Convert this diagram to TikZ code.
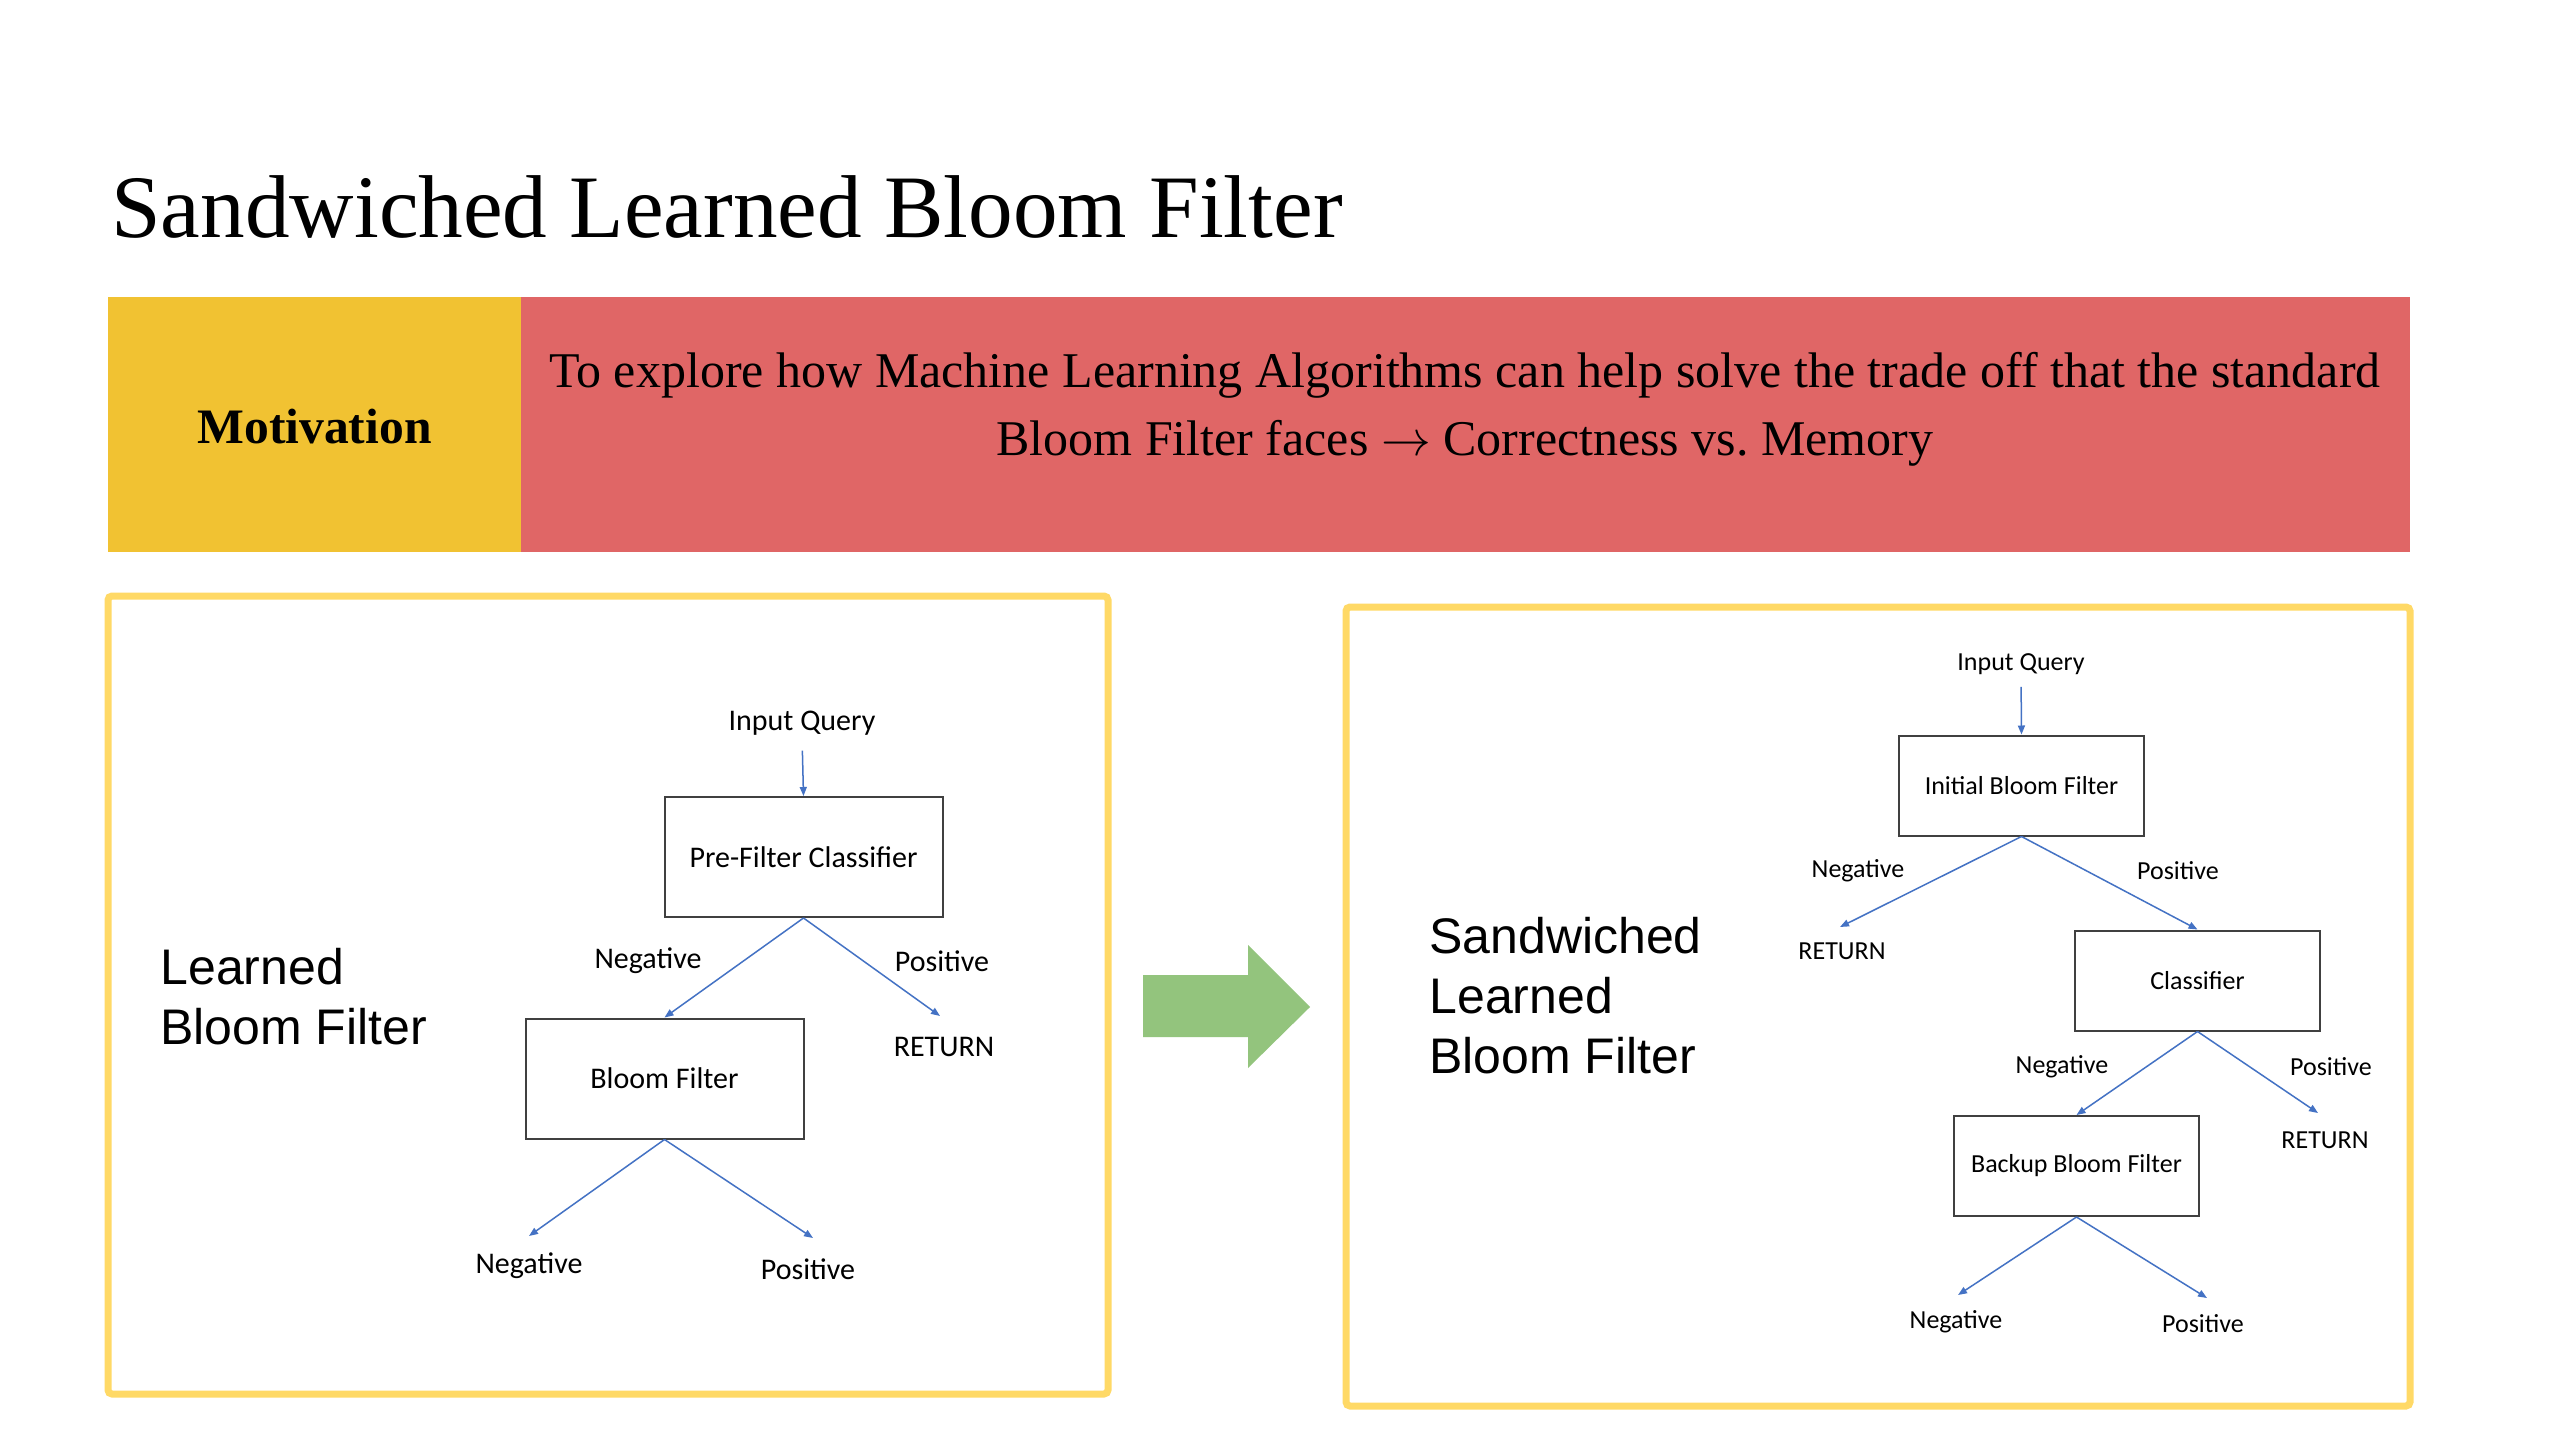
\documentclass[tikz,border=0pt]{standalone}
\usepackage{fontspec}
\setmainfont{Liberation Serif}
\newfontfamily\arialf{Liberation Sans}
\newfontfamily\calf{Carlito}
\usetikzlibrary{arrows.meta}
\definecolor{banyel}{HTML}{F1C232}
\definecolor{banred}{HTML}{E06666}
\definecolor{panelyel}{HTML}{FFD966}
\definecolor{arrgreen}{HTML}{93C47D}
\definecolor{flowblue}{HTML}{4472C4}
\definecolor{boxgray}{HTML}{404040}
\tikzset{
  flow/.style={draw=flowblue, line width=0.75pt, -{Triangle[length=4.5pt,width=3.5pt]}},
  lblL/.style={inner sep=0pt, font=\calf\fontsize{15}{18}\selectfont},
  lblR/.style={inner sep=0pt, font=\calf\fontsize{13}{16}\selectfont},
  boxL/.style={draw=boxgray, line width=1pt, minimum width=139pt, minimum height=60pt, inner sep=0pt, font=\calf\fontsize{15}{18}\selectfont},
  boxR/.style={draw=boxgray, line width=1pt, minimum width=122.5pt, minimum height=50pt, inner sep=0pt, font=\calf\fontsize{13}{16}\selectfont},
  panel/.style={draw=panelyel, line width=3.5pt, rounded corners=2pt},
  bigsans/.style={anchor=west, align=left, inner sep=0pt, font=\arialf\fontsize{25}{30}\selectfont}
}
\frenchspacing
\begin{document}
\begin{tikzpicture}[x=0.5pt, y=-0.5pt]
\useasboundingbox (0,0) rectangle (2560,1440);
\fill[white] (0,0) rectangle (2560,1440);

% title
\node[anchor=base west, inner sep=0pt, font=\fontsize{44.6}{54}\selectfont] (title) at (111,237) {Sandwiched Learned Bloom Filter};

% banner
\fill[banyel] (108,297) rectangle (521,552);
\fill[banred] (521,297) rectangle (2410,552);
\node[inner sep=0pt, font=\bfseries\fontsize{24.8}{30}\selectfont] (mot) at (314.5,427) {Motivation};
\node[inner sep=0pt, align=center, font=\fontsize{25}{34}\selectfont] (motx) at (1465,409)
  {To explore how Machine Learning Algorithms can help solve the trade off that the standard\\Bloom Filter faces $\rightarrow$ Correctness vs. Memory};

% panels
\draw[panel] (108,596) rectangle (1108,1394);
\draw[panel] (1346,607) rectangle (2410,1406);

% green arrow
\fill[arrgreen] (1143,975) -- (1248,975) -- (1248,945) -- (1310,1007) -- (1248,1068) -- (1248,1037) -- (1143,1037) -- cycle;

% left panel
\node[bigsans] (ttlL) at (160,997) {Learned\\Bloom Filter};
\node[lblL] (iq1) at (802,723) {Input Query};
\node[boxL] (pf) at (803.5,857) {Pre-Filter Classifier};
\node[boxL] (bf) at (664.5,1078.5) {Bloom Filter};
\node[lblL] (n1a) at (648,961) {Negative};
\node[lblL] (p1a) at (942,961) {Positive};
\node[lblL] (r1a) at (944,1047) {RETURN};
\node[lblL] (n1b) at (529,1266) {Negative};
\node[lblL] (p1b) at (808,1269) {Positive};
\coordinate (r1e) at (940,1016);
\coordinate (n1e) at (529,1236);
\coordinate (p1e) at (813,1238);
\draw[flow, shorten <=7.5pt] (iq1.south) -- (pf.north);
\draw[flow] (pf.south) -- (bf.north);
\draw[flow] (pf.south) -- (r1e);
\draw[flow] (bf.south) -- (n1e);
\draw[flow] (bf.south) -- (p1e);

% right panel
\node[bigsans] (ttlR) at (1429,996) {Sandwiched\\Learned\\Bloom Filter};
\node[lblR] (iq2) at (2021,664) {Input Query};
\node[boxR] (ib) at (2021.5,785.5) {Initial Bloom Filter};
\node[boxR] (cl) at (2197.5,980.5) {Classifier};
\node[boxR] (bb) at (2076.5,1166) {Backup Bloom Filter};
\node[lblR] (n2a) at (1858,871) {Negative};
\node[lblR] (p2a) at (2178,871) {Positive};
\node[lblR] (r2a) at (1842,951) {RETURN};
\node[lblR] (n2b) at (2062,1067) {Negative};
\node[lblR] (p2b) at (2331,1067) {Positive};
\node[lblR] (r2b) at (2325,1140) {RETURN};
\node[lblR] (n2c) at (1956,1322) {Negative};
\node[lblR] (p2c) at (2203,1324) {Positive};
\coordinate (r2ae) at (1840,927);
\coordinate (r2be) at (2318,1113);
\coordinate (n2ce) at (1958,1295);
\coordinate (p2ce) at (2207,1298);
\draw[flow, shorten <=6pt] (iq2.south) -- (ib.north);
\draw[flow] (ib.south) -- (r2ae);
\draw[flow] (ib.south) -- (cl.north);
\draw[flow] (cl.south) -- (bb.north);
\draw[flow] (cl.south) -- (r2be);
\draw[flow] (bb.south) -- (n2ce);
\draw[flow] (bb.south) -- (p2ce);
\end{tikzpicture}
\end{document}
